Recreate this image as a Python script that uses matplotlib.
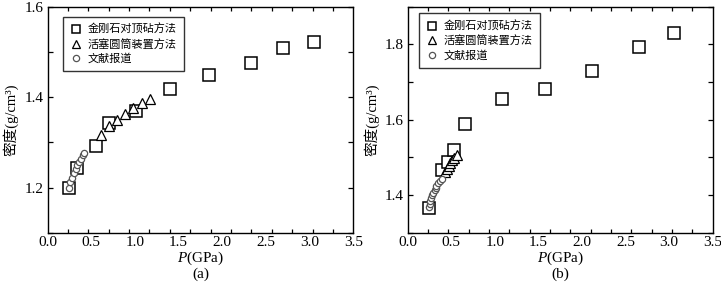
import numpy as np
import matplotlib
matplotlib.use('Agg')
import matplotlib.pyplot as plt
from matplotlib.ticker import MultipleLocator

plt.rcParams['font.family'] = ['Liberation Serif', 'Noto Sans CJK SC']
plt.rcParams['mathtext.fontset'] = 'custom'
plt.rcParams['mathtext.it'] = 'Liberation Serif:italic'
plt.rcParams['mathtext.rm'] = 'Liberation Serif'

labels = ['金刚石对顶砧方法', '活塞圆筒装置方法', '文献报道']

# (a)
dac_p_a = [0.24, 0.34, 0.56, 0.70, 1.01, 1.40, 1.85, 2.33, 2.70, 3.05]
dac_r_a = [1.200, 1.243, 1.293, 1.342, 1.369, 1.417, 1.449, 1.476, 1.509, 1.522]
pc_p_a = [0.61, 0.70, 0.80, 0.89, 0.98, 1.08, 1.17]
pc_r_a = [1.316, 1.335, 1.349, 1.363, 1.375, 1.386, 1.396]
lit_p_a = [0.24, 0.26, 0.28, 0.30, 0.32, 0.34, 0.36, 0.38, 0.40, 0.42]
lit_r_a = [1.200, 1.212, 1.222, 1.232, 1.241, 1.249, 1.257, 1.264, 1.271, 1.277]

# (b)
dac_p_b = [0.24, 0.39, 0.46, 0.53, 0.66, 1.08, 1.57, 2.12, 2.65, 3.06]
dac_r_b = [1.366, 1.466, 1.488, 1.521, 1.588, 1.656, 1.682, 1.729, 1.792, 1.829]
pc_p_b = [0.43, 0.45, 0.47, 0.49, 0.51, 0.53, 0.56]
pc_r_b = [1.462, 1.470, 1.478, 1.485, 1.492, 1.499, 1.507]
lit_p_b = [0.24, 0.25, 0.26, 0.27, 0.28, 0.29, 0.31, 0.32, 0.33, 0.35, 0.37, 0.39]
lit_r_b = [1.368, 1.377, 1.385, 1.393, 1.400, 1.406, 1.413, 1.419, 1.425, 1.431, 1.437, 1.442]


def panel(ax, dp, dr, pp, pr, lp, lr, ylim, leg_xy, tag):
    ax.plot(dp, dr, 's', ms=8.5, mfc='white', mec='black', mew=1.1, label=labels[0], zorder=3)
    ax.plot(pp, pr, '^', ms=6.5, mfc='white', mec='black', mew=0.9, label=labels[1], zorder=4)
    ax.plot(lp, lr, 'o', ms=4.5, mfc='white', mec='#555555', mew=0.9, label=labels[2], zorder=5)
    ax.set_xlim(0, 3.5)
    ax.set_ylim(*ylim)
    ax.set_xticks(np.arange(0, 3.51, 0.5))
    ax.xaxis.set_minor_locator(MultipleLocator(3.5 / 15))
    ax.yaxis.set_major_locator(MultipleLocator(0.2))
    ax.yaxis.set_minor_locator(MultipleLocator(0.1))
    ax.tick_params(which='major', axis='x', length=0, labelsize=11, pad=2.5)
    ax.tick_params(which='major', axis='y', direction='in', length=3.5, width=0.9,
                   right=True, labelsize=11, pad=3)
    ax.tick_params(which='minor', direction='in', length=3, width=0.9, top=True, right=True)
    ax.tick_params(which='minor', axis='y', length=3.5)
    ax.set_yticklabels([f'{v:.1f}' for v in ax.get_yticks()])
    for s in ax.spines.values():
        s.set_linewidth(1.0)
    ax.set_xlabel(r'$\it{P}$(GPa)', fontsize=11, labelpad=0.5)
    ax.text(0.5, -0.185, tag, transform=ax.transAxes, ha='center', va='center', fontsize=11)
    ax.set_ylabel('密度(g/cm³)', fontsize=10.5, labelpad=4)
    leg = ax.legend(loc='upper left', bbox_to_anchor=leg_xy, borderaxespad=0, fontsize=8,
                    frameon=True, fancybox=False, edgecolor='black', handlelength=1.0,
                    handletextpad=0.6, labelspacing=0.33, borderpad=0.65, numpoints=1)
    leg.get_frame().set_linewidth(1.0)
    for h, m in zip(leg.legend_handles, [6, 5.5, 4.5]):
        h.set_markersize(m)


fig = plt.figure(figsize=(7.21, 2.84), dpi=100)
ax1 = fig.add_axes([0.066, 0.18, 0.424, 0.797])
ax2 = fig.add_axes([0.5655, 0.18, 0.423, 0.797])

panel(ax1, dac_p_a, dac_r_a, pc_p_a, pc_r_a, lit_p_a, lit_r_a, (1.1, 1.6), (0.05, 0.955), '(a)')
panel(ax2, dac_p_b, dac_r_b, pc_p_b, pc_r_b, lit_p_b, lit_r_b, (1.3, 1.9), (0.037, 0.97), '(b)')

fig.savefig('out.png', dpi=100)
